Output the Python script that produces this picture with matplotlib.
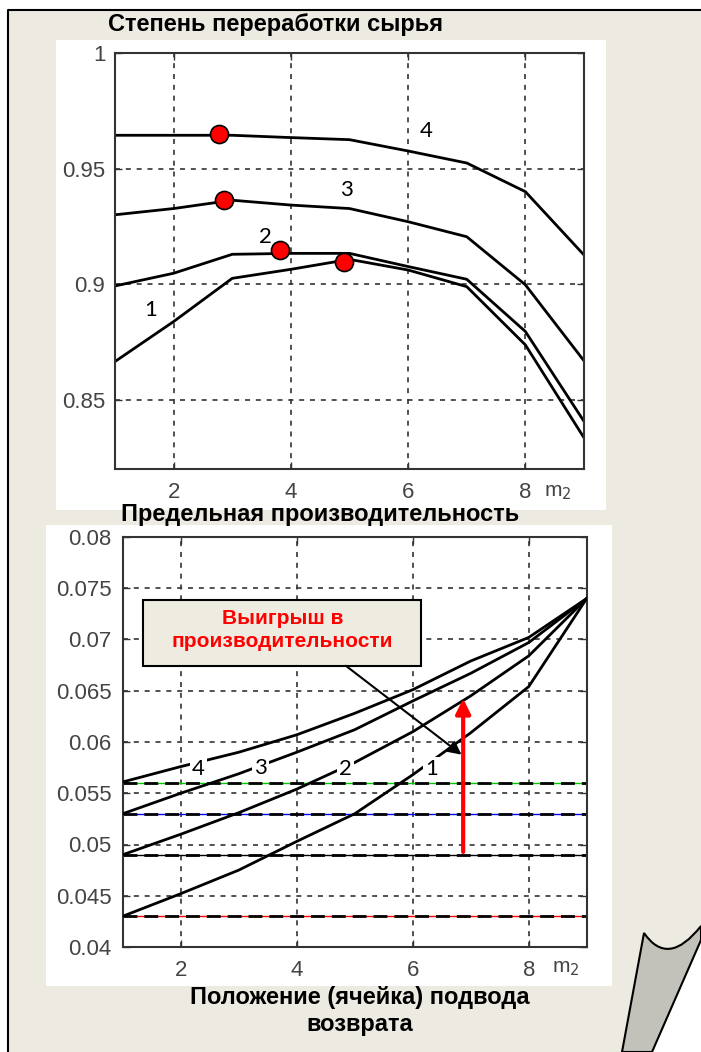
import matplotlib.pyplot as plt
import matplotlib.patches as mpatches
from matplotlib.path import Path

# --- данные ---
m2 = [1, 2, 3, 4, 5, 6, 7, 8, 9]

# степень переработки сырья, кривые 1..4
conv_1 = [0.8665, 0.8838, 0.9025, 0.9064, 0.9107, 0.9061, 0.8989, 0.8737, 0.8335]
conv_2 = [0.8992, 0.9047, 0.9129, 0.9133, 0.9133, 0.9076, 0.9021, 0.8795, 0.8406]
conv_3 = [0.9300, 0.9327, 0.9363, 0.9342, 0.9327, 0.9270, 0.9205, 0.8997, 0.8668]
conv_4 = [0.9644, 0.9644, 0.9644, 0.9634, 0.9625, 0.9576, 0.9524, 0.9400, 0.9126]
opt_x = [4.91, 3.82, 2.86, 2.77]
opt_y = [0.9094, 0.9147, 0.9363, 0.9648]

# предельная производительность, кривые 1..4
cap_1 = [0.0430, 0.0452, 0.0475, 0.0503, 0.0530, 0.0568, 0.0609, 0.0654, 0.0740]
cap_2 = [0.0490, 0.0510, 0.0531, 0.0554, 0.0580, 0.0610, 0.0645, 0.0684, 0.0740]
cap_3 = [0.0530, 0.0550, 0.0569, 0.0590, 0.0612, 0.0640, 0.0667, 0.0697, 0.0740]
cap_4 = [0.0561, 0.0576, 0.0590, 0.0607, 0.0628, 0.0651, 0.0679, 0.0702, 0.0740]
base_levels = [0.043, 0.049, 0.053, 0.056]
base_colors = ['red', 'black', 'blue', '#00cc00']

labels = ['1', '2', '3', '4']
top_lab_x = [1.61, 3.57, 4.94, 6.31]
top_lab_y = [0.8888, 0.9205, 0.9409, 0.9663]
bot_lab_x = [6.32, 4.84, 3.38, 2.30]
bot_lab_y = [0.0574, 0.0574, 0.0575, 0.0574]

W, H = 701, 1052
BEIGE = '#ECEAE1'
TICK_COLOR = '#444444'
FONT = 'Liberation Sans'

fig = plt.figure(figsize=(W / 100, H / 100), dpi=100)
fig.patch.set_facecolor('white')

# фон-"листок" в пиксельных координатах
bg = fig.add_axes([0, 0, 1, 1])
bg.set_xlim(0, W)
bg.set_ylim(H, 0)
bg.axis('off')
page = mpatches.Polygon([(8, 10), (W, 10), (W, 940), (652, H), (8, H)],
                        closed=True, facecolor=BEIGE, edgecolor='none')
bg.add_patch(page)
bg.plot([8, 8, W], [H, 10, 10], color='black', lw=1.5)
curl_path = Path([(644, 933), (668, 968), (W, 926), (W, 940), (652, H), (622, H), (644, 933)],
                 [Path.MOVETO, Path.CURVE3, Path.CURVE3, Path.LINETO, Path.LINETO,
                  Path.LINETO, Path.CLOSEPOLY])
bg.add_patch(mpatches.PathPatch(curl_path, facecolor='#C2C1BA', edgecolor='black', lw=1.5))
bg.add_patch(mpatches.Rectangle((56, 40), 550, 470, facecolor='white', edgecolor='none'))
bg.add_patch(mpatches.Rectangle((46, 525), 566, 461, facecolor='white', edgecolor='none'))


def px_axes(left, top, right, bottom):
    return fig.add_axes([left / W, 1 - bottom / H, (right - left) / W, (bottom - top) / H])


def style_axes(ax, ypad):
    ax.set_xlim(1, 9)
    ax.set_xticks([2, 4, 6, 8])
    ax.grid(True, color='#333333', linestyle=(0, (3, 3.5)), lw=1.2)
    ax.tick_params(direction='in', length=5, width=1, top=True, right=True,
                   labelsize=16, labelcolor=TICK_COLOR, color='#333333')
    ax.tick_params(axis='x', pad=9)
    ax.tick_params(axis='y', pad=ypad)
    for lab in ax.get_xticklabels() + ax.get_yticklabels():
        lab.set_fontfamily(FONT)
    for sp in ax.spines.values():
        sp.set_linewidth(1.5)
        sp.set_color('#333333')


def ftext(x, y, s, **kw):
    fig.text(x / W, 1 - y / H, s, ha='center', va='center', family=FONT, **kw)


# --- верхний график ---
ax1 = px_axes(115, 53, 584, 469)
for ys in [conv_1, conv_2, conv_3, conv_4]:
    ax1.plot(m2, ys, color='black', lw=2)
ax1.plot(opt_x, opt_y, 'o', ms=13, mfc='red', mec='black', mew=1.2, zorder=5)
ax1.set_ylim(0.82, 1.0)
ax1.set_yticks([0.85, 0.9, 0.95, 1.0])
ax1.set_yticklabels(['0.85', '0.9', '0.95', '1'])
style_axes(ax1, 7)
for s, x, y in zip(labels, top_lab_x, top_lab_y):
    ax1.text(x, y, s, ha='center', va='center', fontsize=16, family='Lato')

# --- нижний график ---
ax2 = px_axes(122.7, 537, 586.7, 947)
for lvl, c in zip(base_levels, base_colors):
    ax2.axhline(lvl, color=c, lw=1, zorder=2)
    ax2.axhline(lvl, color='black', lw=2, linestyle=(0, (5, 2.5)), zorder=2)
for ys in [cap_1, cap_2, cap_3, cap_4]:
    ax2.plot(m2, ys, color='black', lw=2, zorder=3)
for s, x, y in zip(labels, bot_lab_x, bot_lab_y):
    ax2.text(x, y, s, ha='center', va='center', fontsize=16, family='Lato', zorder=4,
             bbox=dict(facecolor='white', edgecolor='none', pad=1.5))
ax2.set_ylim(0.04, 0.08)
ax2.set_yticks([0.04, 0.045, 0.05, 0.055, 0.06, 0.065, 0.07, 0.075, 0.08])
ax2.set_yticklabels(['0.04', '0.045', '0.05', '0.055', '0.06', '0.065', '0.07', '0.075', '0.08'])
style_axes(ax2, 8)

ax2.add_patch(mpatches.Rectangle((1.355, 0.0674), 4.785, 0.0065, facecolor='#EEECE1',
                                 edgecolor='black', lw=1.5, zorder=6))
ax2.text(3.75, 0.07095, 'Выигрыш в\nпроизводительности', ha='center', va='center',
         color='red', fontsize=15, fontweight='bold', family=FONT, linespacing=1.25, zorder=7)
ax2.annotate('', xy=(6.88, 0.0586), xytext=(4.81, 0.0676), zorder=8,
             arrowprops=dict(arrowstyle='-|>', color='black', lw=1.5, mutation_scale=20))
ax2.annotate('', xy=(6.87, 0.0645), xytext=(6.87, 0.049), zorder=8,
             arrowprops=dict(arrowstyle='-|>', color='red', lw=3, mutation_scale=22))

# --- подписи ---
ftext(276, 25, 'Степень переработки сырья', fontsize=17, fontweight='bold')
ftext(320, 515, 'Предельная производительность', fontsize=17, fontweight='bold')
ftext(360, 1011, 'Положение (ячейка) подвода\nвозврата', fontsize=17, fontweight='bold',
      linespacing=1.2)
ftext(558, 492, 'm$_2$', fontsize=15, color=TICK_COLOR)
ftext(566, 969, 'm$_2$', fontsize=15, color=TICK_COLOR)

fig.savefig('out.png', dpi=100, facecolor=fig.get_facecolor())
